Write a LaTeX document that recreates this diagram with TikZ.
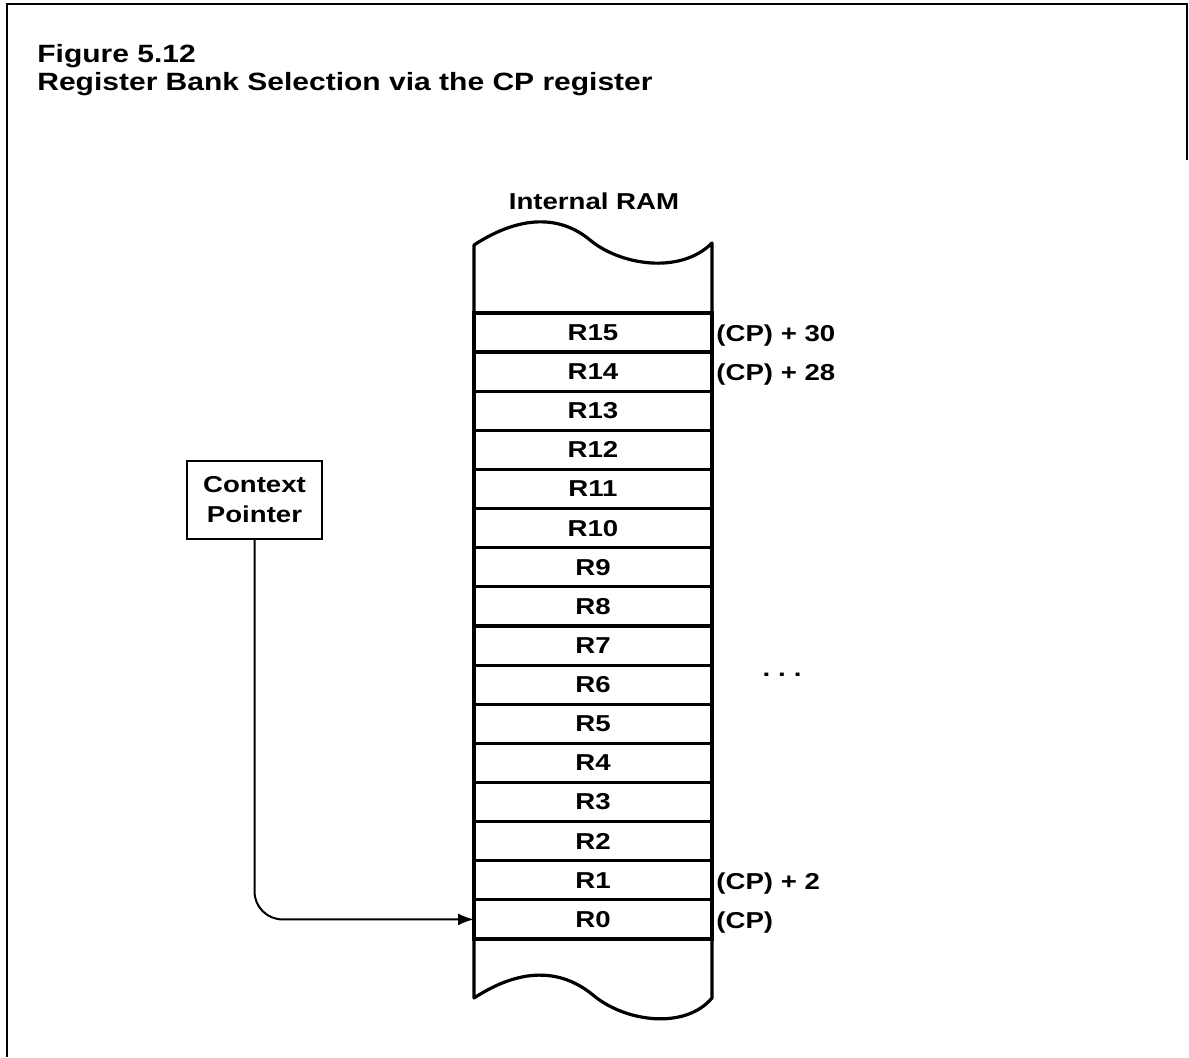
\documentclass[tikz,border=0pt]{standalone}
\usepackage{fontspec}
\setmainfont{Liberation Sans}[FakeStretch=1.2]
\usetikzlibrary{arrows.meta}
\begin{document}
\begin{tikzpicture}[x=0.5pt,y=-0.5pt,
  bodyfont/.style={font=\fontsize{11.5pt}{15pt}\selectfont\bfseries},
  titlefont/.style={font=\fontsize{12.5pt}{15pt}\selectfont\bfseries},
  regbox/.style={draw, line width=1.6pt, minimum width=119pt, minimum height=19.5625pt,
    inner sep=0pt, outer sep=0pt, bodyfont},
  colline/.style={line width=1.6pt, line join=round},
  lbl/.style={inner sep=0pt, anchor=base west, bodyfont},
  cpbox/.style={draw, line width=1pt, minimum width=67.5pt, minimum height=39pt,
    inner sep=0pt, align=center, bodyfont},
  conn/.style={line width=1pt, -{Latex[length=8pt,width=6pt]}, rounded corners=14pt},
  frame/.style={line width=1.2pt}
]
\useasboundingbox (0,0) rectangle (1189,1057);
% outer frame (partial)
\draw[frame] (7,1057) -- (7,4) -- (1187,4) -- (1187,160);
% title
\node[titlefont, inner sep=0pt, anchor=base west] (t1) at (37,62) {Figure 5.12};
\node[titlefont, inner sep=0pt, anchor=base west] (t2) at (37,90) {Register Bank Selection via the CP register};
% memory heading
\node[bodyfont, inner sep=0pt, anchor=base] (ram) at (594,209) {Internal RAM};
% register rows
\foreach \i in {0,...,15} {
  \node[regbox] (r\i) at (593,{919.4-39.125*\i}) {R\i};
}
% wavy caps
\draw[colline] (r15.north west) -- (474,245) .. controls (520,215) and (560,215) .. (590,240)
  .. controls (620,265) and (680,275) .. (712,243) -- (r15.north east);
\draw[colline] (r0.south west) -- (474,998) .. controls (520,968) and (560,968) .. (593,995)
  .. controls (625,1022) and (685,1030) .. (712,998) -- (r0.south east);
% address labels
\node[lbl] (a15) at (716,341) {(CP) + 30};
\node[lbl] (a14) at (716,380) {(CP) + 28};
\node[lbl] (a1) at (716,889) {(CP) + 2};
\node[lbl] (a0) at (716,928) {(CP)};
\node[bodyfont, inner sep=0pt, anchor=base] (dots) at (782,676) {.\hspace{4pt}.\hspace{4pt}.};
% context pointer
\node[cpbox] (cp) at (254.5,500) {Context\\Pointer};
\draw[conn] (cp.south) |- (r0.west);
\end{tikzpicture}
\end{document}
